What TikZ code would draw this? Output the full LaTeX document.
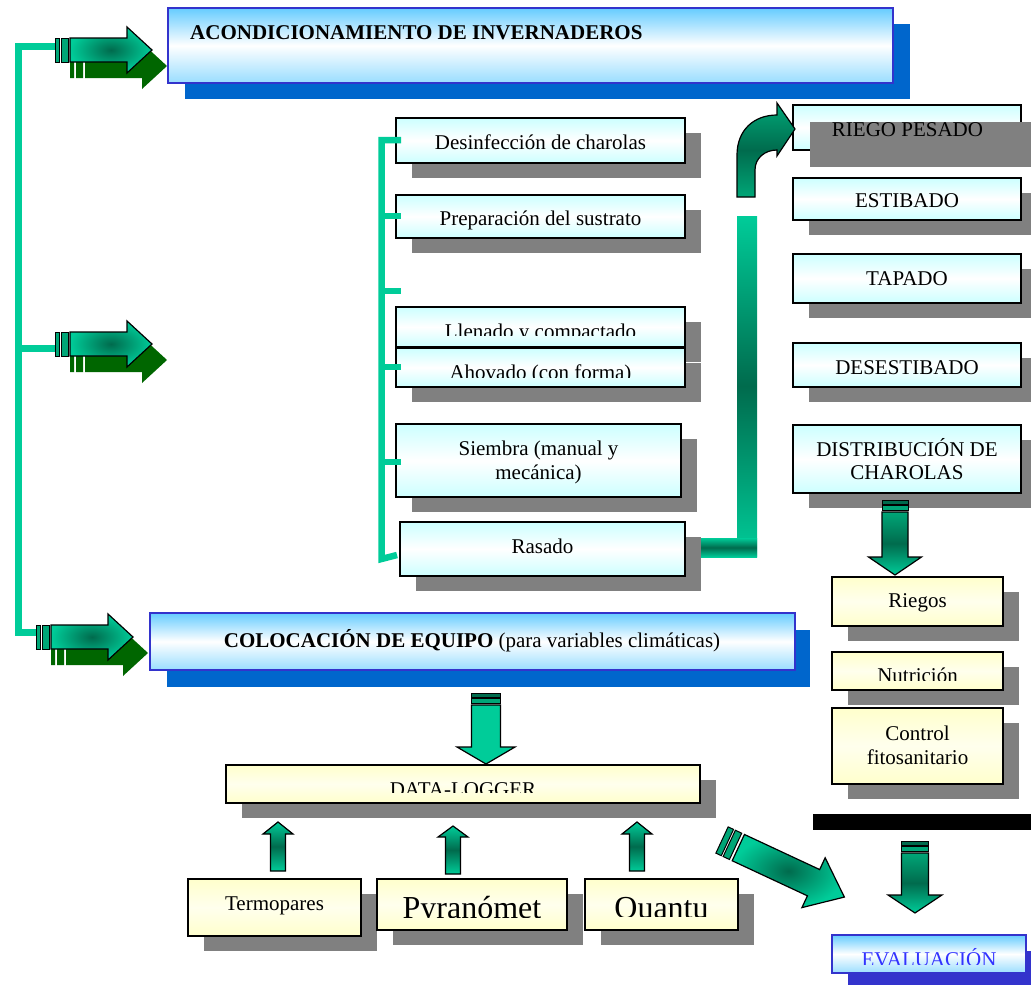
\documentclass[tikz,border=0pt]{standalone}
\usepackage{fontspec}
\setmainfont{Liberation Serif}
\definecolor{teal1}{HTML}{00CC99}
\definecolor{teal2}{HTML}{00A677}
\definecolor{dkgreen}{HTML}{006B4D}
\definecolor{shgreen}{HTML}{006600}
\definecolor{bborder}{HTML}{3333CC}
\definecolor{bshadow}{HTML}{0066CC}
\definecolor{btop}{HTML}{66CCFF}
\definecolor{bbot}{HTML}{99DDFF}
\definecolor{cfill}{HTML}{CCFFFF}
\definecolor{yfill}{HTML}{FFFFCC}
\definecolor{gshadow}{HTML}{808080}
\definecolor{evtext}{HTML}{3333FF}
\tikzset{
 bluebox/.style={draw=bborder, line width=1.5pt, top color=btop, bottom color=bbot, middle color=white, inner sep=0pt},
 cyanbox/.style={draw=black, line width=1.5pt, top color=cfill, bottom color=cfill, middle color=white, inner sep=0pt},
 yelbox/.style={draw=black, line width=1.5pt, top color=yfill, bottom color=yfill, middle color=yfill!35!white, inner sep=0pt},
 txt/.style={font=\fontsize{21}{24}\selectfont, inner sep=0pt, anchor=base},
 bigtxt/.style={font=\fontsize{32}{36}\selectfont, inner sep=0pt, anchor=base},
 bracket/.style={teal1, line width=7pt},
 arrline/.style={draw=black, line width=1.2pt},
 stripe/.style={fill=teal2, draw=black, line width=1pt},
}
\newcommand\mkbox[6]{%
  \node[#6, minimum width={(#4-#2)*1pt}, minimum height={(#5-#3)*1pt}] (#1) at ({(#2+#4)/2},{(#3+#5)/2}) {};}
\newcommand\mkshadow[5]{%
  \fill[#5] ({#1+16},{#2+15}) rectangle ({#3+16},{#4+15});}
\newcommand\harrow[2]{%
 \begin{scope}[shift={(#1,#2)}]
  \fill[shgreen] (15,4) rectangle (19,28) (21,4) rectangle (28,28);
  \fill[shgreen] (30,4) -- (87,4) -- (87,-7) -- (112,16) -- (87,39) -- (87,28) -- (30,28) -- cycle;
  \draw[stripe] (0,-12) rectangle (4,12);
  \draw[stripe] (6,-12) rectangle (13,12);
  \path[inner color=dkgreen, outer color=teal1, arrline] (15,-12) -- (72,-12) -- (72,-23) -- (97,0) -- (72,23) -- (72,12) -- (15,12) -- cycle;
 \end{scope}}
\newcommand\darrow[7]{%
  \draw[stripe, fill=dkgreen] ({#1-#3},#2) rectangle ({#1+#3},{#2+4});
  \draw[stripe] ({#1-#3},{#2+5}) rectangle ({#1+#3},{#2+10});
  \path[#7, arrline] ({#1-#3},{#2+12}) -- ({#1+#3},{#2+12}) -- ({#1+#3},#5) -- ({#1+#4},#5) -- (#1,#6) -- ({#1-#4},#5) -- ({#1-#3},#5) -- cycle;}
\newcommand\uarrow[6]{%
  \path[top color=teal1, bottom color=teal1, middle color=dkgreen, arrline] (#1,#2) -- ({#1+#6},#3) -- ({#1+#5},#3) -- ({#1+#5},#4) -- ({#1-#5},#4) -- ({#1-#5},#3) -- ({#1-#6},#3) -- cycle;}
\begin{document}
\begin{tikzpicture}[x=1pt,y=-1pt]
\useasboundingbox (0,0) rectangle (1031,985);
\fill[white] (0,0) rectangle (1031,985);

% left bracket and arrows
\draw[bracket] (55,46) -- (18,46) -- (18,632) -- (36,632);
\draw[bracket] (18,348) -- (55,348);
\harrow{55}{50}
\harrow{55}{344}
\harrow{36}{637}

% header
\fill[bshadow] (185,24) rectangle (910,99);
\mkbox{hdr}{168}{8}{893}{83}{bluebox}
\node[txt, anchor=base west, font=\fontsize{21}{24}\selectfont\bfseries] (hdrt) at (190,39.5) {ACONDICIONAMIENTO DE INVERNADEROS};

% colocacion
\fill[bshadow] (167,630) rectangle (810,687);
\mkbox{col}{150}{613}{795}{670}{bluebox}
\node[txt] (colt) at (472,647) {\textbf{COLOCACIÓN DE EQUIPO} (para variables climáticas)};

% green bars
\path[top color=teal1, bottom color=teal1, middle color=dkgreen] (737,216) rectangle (757,556);
\path[top color=teal1, bottom color=teal1, middle color=dkgreen] (699,538) rectangle (757,557);

% left column steps
\mkshadow{396}{118}{685}{163}{gshadow}
\mkbox{desinf}{396}{118}{685}{163}{cyanbox}
\node[txt] (desinft) at (540.5,149) {Desinfección de charolas};
\mkshadow{396}{195}{685}{238}{gshadow}
\mkbox{prep}{396}{195}{685}{238}{cyanbox}
\node[txt] (prept) at (540.5,225) {Preparación del sustrato};
\mkshadow{396}{307}{685}{347}{gshadow}
\mkbox{llen}{396}{307}{685}{347}{cyanbox}
\begin{scope}
 \clip (396,307) rectangle (685,335.5);
 \node[txt] (llent) at (540.5,338) {Llenado y compactado};
\end{scope}
\mkshadow{396}{348}{685}{387}{gshadow}
\mkbox{ahov}{396}{348}{685}{387}{cyanbox}
\begin{scope}
 \clip (396,348) rectangle (685,377);
 \node[txt] (ahovt) at (540.5,379) {Ahovado (con forma)};
\end{scope}
\mkshadow{396}{424}{681}{497}{gshadow}
\mkbox{siem}{396}{424}{681}{497}{cyanbox}
\node[txt] (siemta) at (538.5,455) {Siembra (manual y};
\node[txt] (siemtb) at (538.5,479) {mecánica)};
\mkshadow{400}{522}{685}{576}{gshadow}
\mkbox{ras}{400}{522}{685}{576}{cyanbox}
\node[txt] (rast) at (542.5,553) {Rasado};

% step bracket
\draw[teal1, line width=6.5pt] (401,140) -- (381.5,140) -- (381.5,559) -- (397,555);
\foreach \yy in {216,291,367,462} \draw[teal1, line width=6.5pt] (381.5,\yy) -- (401,\yy);

% right column
\mkbox{riego}{793}{105}{1021}{150}{cyanbox}
\fill[gshadow] (810,122) rectangle (1040,167);
\node[txt] (riegot) at (907.5,136) {RIEGO PESADO};
\path[top color=teal2, bottom color=teal2, middle color=dkgreen, arrline] (737,197) -- (737,155) .. controls (737,130) and (754,115) .. (777,115) -- (777,103) -- (795,129) -- (777,156) -- (777,150) .. controls (765,150) and (755,158) .. (755,170) -- (755,197) -- cycle;
\mkshadow{793}{178}{1021}{220}{gshadow}
\mkbox{estib}{793}{178}{1021}{220}{cyanbox}
\node[txt] (estibt) at (907,207.5) {ESTIBADO};
\mkshadow{793}{254}{1021}{303}{gshadow}
\mkbox{tapado}{793}{254}{1021}{303}{cyanbox}
\node[txt] (tapadot) at (907,285) {TAPADO};
\mkshadow{793}{343}{1021}{387}{gshadow}
\mkbox{desest}{793}{343}{1021}{387}{cyanbox}
\node[txt] (desestt) at (907,374) {DESESTIBADO};
\mkshadow{793}{425}{1021}{493}{gshadow}
\mkbox{distrib}{793}{425}{1021}{493}{cyanbox}
\node[txt] (distribta) at (907,456) {DISTRIBUCIÓN DE};
\node[txt] (distribtb) at (907,479) {CHAROLAS};

\darrow{895}{500}{13}{26.5}{557}{575}{top color=teal2, bottom color=teal1, middle color=dkgreen}

\mkshadow{832}{577}{1003}{626}{gshadow}
\mkbox{riegos}{832}{577}{1003}{626}{yelbox}
\node[txt] (riegost) at (917.5,607) {Riegos};
\mkshadow{832}{652}{1003}{690}{gshadow}
\mkbox{nutri}{832}{652}{1003}{690}{yelbox}
\begin{scope}
 \clip (832,652) rectangle (1003,680);
 \node[txt] (nutrit) at (917.5,682) {Nutrición};
\end{scope}
\mkshadow{832}{708}{1003}{784}{gshadow}
\mkbox{control}{832}{708}{1003}{784}{yelbox}
\node[txt] (controlta) at (917.5,740) {Control};
\node[txt] (controltb) at (917.5,764) {fitosanitario};

% black bar and evaluation
\fill[black] (813,814) rectangle (1031,830);
\darrow{915}{841}{13.5}{27}{895}{913}{top color=teal2, bottom color=teal1, middle color=dkgreen}
\fill[bborder] (848,951) rectangle (1042,989);
\mkbox{eval}{832}{935}{1026}{973}{bluebox}
\begin{scope}
 \clip (832,935) rectangle (1026,964);
 \node[txt, text=evtext] (evalt) at (929,966) {EVALUACIÓN};
\end{scope}

% data logger part
\darrow{486}{693}{14.5}{29}{747}{764}{fill=teal1}
\mkshadow{226}{765}{700}{803}{gshadow}
\mkbox{dlog}{226}{765}{700}{803}{yelbox}
\begin{scope}
 \clip (226,765) rectangle (700,792);
 \node[txt] (dlogt) at (463,796) {DATA-LOGGER};
\end{scope}
\uarrow{278}{822}{834}{871}{7.5}{15}
\uarrow{453}{826}{837}{874}{7.5}{15}
\uarrow{637}{822}{834}{871}{7.5}{15}

\mkshadow{188}{879}{361}{936}{gshadow}
\mkbox{termo}{188}{879}{361}{936}{yelbox}
\node[txt] (termot) at (274.5,910) {Termopares};
\mkshadow{377}{879}{567}{930}{gshadow}
\mkbox{pyra}{377}{879}{567}{930}{yelbox}
\begin{scope}
 \clip (377,879) rectangle (567,917.5);
 \node[bigtxt] (pyrat) at (472,918.5) {Pyranómet};
\end{scope}
\mkshadow{585}{879}{738}{930}{gshadow}
\mkbox{quan}{585}{879}{738}{930}{yelbox}
\begin{scope}
 \clip (585,879) rectangle (738,916.5);
 \node[bigtxt] (quant) at (661.5,918.5) {Quantu};
\end{scope}

% diagonal arrow
\begin{scope}[shift={(722,840)}, rotate=-25]
  \draw[stripe] (0,-14.5) rectangle (6,14.5);
  \draw[stripe] (8,-14.5) rectangle (15,14.5);
  \path[inner color=dkgreen, outer color=teal1, arrline] (18,-14.5) -- (101,-14.5) -- (101,-27.5) -- (135,0) -- (101,27.5) -- (101,14.5) -- (18,14.5) -- cycle;
\end{scope}
\end{tikzpicture}
\end{document}
